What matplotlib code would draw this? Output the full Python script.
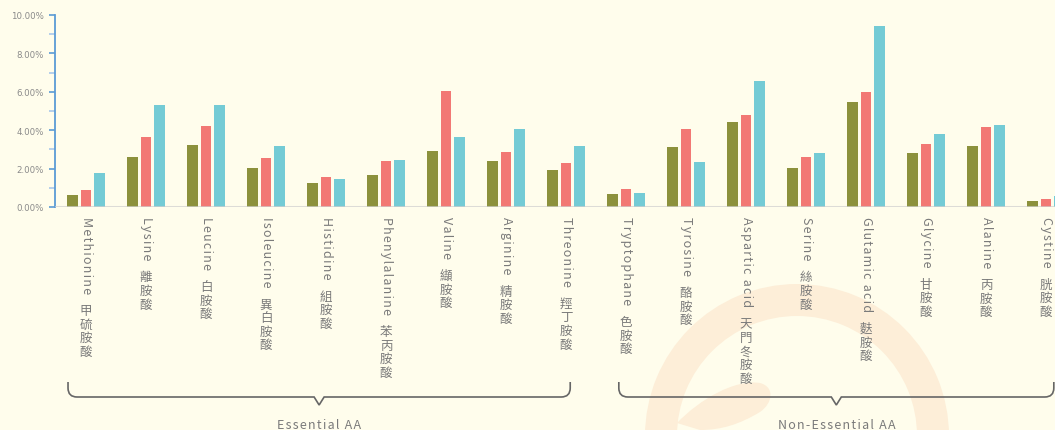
import numpy as np
import matplotlib
matplotlib.use("Agg")
import matplotlib.pyplot as plt
from matplotlib.path import Path
from matplotlib.patches import PathPatch, Annulus
from matplotlib.transforms import IdentityTransform

# ---------------- data ----------------
names_en = ["Methionine", "Lysine", "Leucine", "Isoleucine", "Histidine",
            "Phenylalanine", "Valine", "Arginine", "Threonine", "Tryptophane",
            "Tyrosine", "Aspartic acid", "Serine", "Glutamic acid", "Glycine",
            "Alanine", "Cystine"]
names_zh = ["甲硫胺酸", "離胺酸", "白胺酸", "異白胺酸", "組胺酸", "苯丙胺酸",
            "纈胺酸", "精胺酸", "羥丁胺酸", "色胺酸", "酪胺酸", "天門冬胺酸",
            "絲胺酸", "麩胺酸", "甘胺酸", "丙胺酸", "胱胺酸"]
series_olive = [0.63, 2.60, 3.23, 2.03, 1.25, 1.67, 2.92, 2.40, 1.93, 0.68,
                3.13, 4.43, 2.03, 5.47, 2.81, 3.18, 0.31]
series_red = [0.88, 3.65, 4.22, 2.55, 1.56, 2.40, 6.04, 2.86, 2.29, 0.94,
              4.06, 4.79, 2.60, 5.99, 3.28, 4.17, 0.42]
series_cyan = [1.77, 5.31, 5.31, 3.18, 1.46, 2.45, 3.65, 4.06, 3.18, 0.73,
               2.34, 6.56, 2.81, 9.43, 3.80, 4.27, 0.57]
groups = [("Essential AA", 0, 8), ("Non-Essential AA", 9, 16)]
y_ticks = [0, 2, 4, 6, 8, 10]

# ---------------- style ----------------
W, H, DPI = 1055, 431, 100
BG = "#FFFDEC"
C_OLIVE, C_RED, C_CYAN = "#8C913C", "#F27874", "#74CBD5"
TXT = "#7a7a7a"
PEACH = "#FDEED8"
FONT = ["Noto Sans CJK TC", "DejaVu Sans"]

fig = plt.figure(figsize=(W / DPI, H / DPI), dpi=DPI, facecolor=BG)

# watermark ring + leaf (background decoration)
ring = Annulus((797, H - 437), 152, 32, transform=IdentityTransform(),
               facecolor=PEACH, edgecolor="none", zorder=-2)
fig.add_artist(ring)
leaf_pts = [(677, 424), (700, 400), (735, 380), (760, 384),
            (775, 388), (773, 404), (760, 413),
            (740, 425), (722, 431), (700, 431), (677, 424)]
leaf_codes = [Path.MOVETO, Path.CURVE4, Path.CURVE4, Path.CURVE4,
              Path.CURVE4, Path.CURVE4, Path.CURVE4,
              Path.CURVE4, Path.CURVE4, Path.CURVE4, Path.LINETO]
leaf = PathPatch(Path([(x, H - y) for x, y in leaf_pts], leaf_codes),
                 transform=IdentityTransform(), facecolor=PEACH,
                 edgecolor="none", zorder=-2)
fig.add_artist(leaf)

xmin, xmax = -0.517, 16.6
ax_left = 55 / W
ax_bottom = (H - 208) / H
ax_height = 192 / H
ax_width = (xmax - xmin) * 60 / W
ax = fig.add_axes([ax_left, ax_bottom, ax_width, ax_height])
ax.set_facecolor("none")
ax.set_xlim(xmin, xmax)
ax.set_ylim(0, 10)

x = np.arange(len(names_en))
bw, off = 0.175, 0.222
ax.bar(x - off, series_olive, bw, color=C_OLIVE, zorder=2)
ax.bar(x, series_red, bw, color=C_RED, zorder=2)
ax.bar(x + off, series_cyan, bw, color=C_CYAN, zorder=2)
ax.axhline(0, color="#cfcfcf", lw=2.2, alpha=0.7, zorder=3)

for s in ["top", "right", "bottom"]:
    ax.spines[s].set_visible(False)
ax.spines["left"].set_color("#5B9BD5")
ax.spines["left"].set_linewidth(1.3)
ax.set_yticks(y_ticks)
ax.set_yticklabels([f"{v:.2f}%" for v in y_ticks])
ax.set_yticks([1, 3, 5, 7, 9], minor=True)
ax.tick_params(axis="y", which="major", length=4, width=1.2, color="#5B9BD5",
               labelsize=6.2, labelcolor="#8a8a8a", pad=4)
ax.tick_params(axis="y", which="minor", length=4, width=1.2, color="#A9C8EA")
ax.set_xticks([])

# category labels: rotated latin + upright stacked CJK
renderer = fig.canvas.get_renderer()
HS = "\u200a"
for i, (en, zh) in enumerate(zip(names_en, names_zh)):
    label = HS.join(en)
    t = ax.annotate(label, xy=(i, 0), xycoords=("data", "axes fraction"),
                    xytext=(0, -9), textcoords="offset pixels",
                    rotation=-90, ha="center", va="top", fontsize=9,
                    color=TXT, family=FONT, annotation_clip=False)
    bb = t.get_window_extent(renderer)
    start = 9 + bb.height + 11
    for k, ch in enumerate(zh):
        ax.annotate(ch, xy=(i, 0), xycoords=("data", "axes fraction"),
                    xytext=(0, -(start + k * 13.6)), textcoords="offset pixels",
                    ha="center", va="top", fontsize=9, color=TXT,
                    family=FONT, annotation_clip=False)

# group braces
pads = {"Essential AA": (0.30, 0.07), "Non-Essential AA": (0.12, 0.13)}
y_top, y_h, y_tip, r = H - 383, H - 398, H - 406, 9
for name, a, b in groups:
    pl, pr = pads[name]
    x0 = ax.transData.transform((a - pl, 0))[0]
    x1 = ax.transData.transform((b + pr, 0))[0]
    xm = (x0 + x1) / 2
    verts = [(x0, y_top), (x0, y_h + r), (x0, y_h), (x0 + r, y_h),
             (xm - 5, y_h), (xm, y_tip), (xm + 5, y_h),
             (x1 - r, y_h), (x1, y_h), (x1, y_h + r), (x1, y_top)]
    codes = [Path.MOVETO, Path.LINETO, Path.CURVE3, Path.CURVE3,
             Path.LINETO, Path.LINETO, Path.LINETO,
             Path.LINETO, Path.CURVE3, Path.CURVE3, Path.LINETO]
    fig.add_artist(PathPatch(Path(verts, codes), transform=IdentityTransform(),
                             facecolor="none", edgecolor="#666666", lw=1.2))
    fig.text(xm, 1.5, HS.join(name), transform=IdentityTransform(),
             ha="center", va="baseline", fontsize=9, color=TXT, family=FONT)

fig.savefig("out.png", dpi=DPI, facecolor=BG)
